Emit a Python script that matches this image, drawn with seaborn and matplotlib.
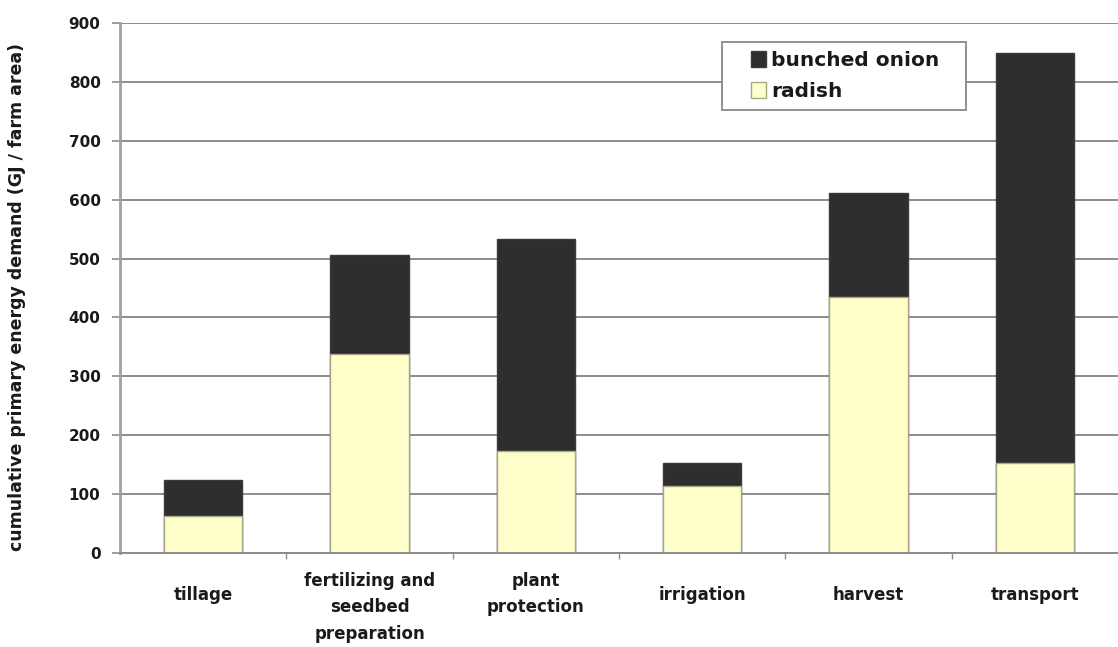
import matplotlib
matplotlib.use("Agg")
import matplotlib.pyplot as plt
import matplotlib.transforms as mtransforms
from matplotlib.patches import Patch, Rectangle
from matplotlib.legend_handler import HandlerPatch
import seaborn as sns
import pandas as pd

categories = ["tillage", "fertilizing and\nseedbed\npreparation", "plant\nprotection",
              "irrigation", "harvest", "transport"]
radish = [63, 338, 174, 114, 435, 152]
bunched_onion = [61, 168, 359, 38, 176, 697]
y_ticks = [0, 100, 200, 300, 400, 500, 600, 700, 800, 900]

sns.set_theme(style="white")
plt.rcParams["font.family"] = ["DejaVu Sans"]
plt.rcParams["font.weight"] = "bold"

RADISH_FILL = "#ffffcc"
RADISH_EDGE = "#a8a888"
ONION_FILL = "#2e2e2e"
ONION_EDGE = "#3a3a3a"
GRID = "#8c8c8c"
TEXT = "#1a1a1a"

df = pd.DataFrame({"stage": categories, "radish": radish, "onion": bunched_onion})
df["total"] = df["radish"] + df["onion"]

fig = plt.figure(figsize=(11.18, 6.47), dpi=100)
ax = fig.add_axes([120 / 1118, 94 / 647, 1.0 - 120 / 1118, 530 / 647])

# Stacked bars: the total is drawn first in the dark colour, the radish share on top of it
sns.barplot(data=df, x="stage", y="total", color=ONION_FILL, width=0.47,
            edgecolor=ONION_EDGE, linewidth=1.0, ax=ax, saturation=1)
sns.barplot(data=df, x="stage", y="radish", color=RADISH_FILL, width=0.47,
            edgecolor=RADISH_EDGE, linewidth=1.0, ax=ax, saturation=1)

ax.set_ylim(0, 900)
ax.set_xlim(-0.5, len(categories) - 0.5)
ax.set_yticks(y_ticks)
ax.set_yticklabels([str(v) for v in y_ticks], fontsize=11, fontweight="bold", color=TEXT)
ax.yaxis.grid(True, color=GRID, linewidth=1.4)
ax.xaxis.grid(False)
ax.set_axisbelow(True)

for side in ("top", "right"):
    ax.spines[side].set_visible(False)
ax.spines["left"].set_color("#a0a0a0")
ax.spines["left"].set_linewidth(2.0)
ax.spines["bottom"].set_color(GRID)
ax.spines["bottom"].set_linewidth(1.4)

ax.tick_params(axis="y", which="major", left=True, length=6, width=1.2, color=GRID, pad=8)

# Category ticks sit between the bars
ax.set_xticks([i + 0.5 for i in range(len(categories) - 1)])
ax.set_xticklabels([])
ax.tick_params(axis="x", which="major", bottom=True, length=4, width=1.0, color=GRID, direction="out")

ax.set_xlabel("")
ax.set_ylabel("cumulative primary energy demand (GJ / farm area)", fontsize=12.5,
              fontweight="bold", color=TEXT)
ax.yaxis.set_label_coords(-0.094, 0.483)

# Category labels, vertically centred below the axis, but never above the first text row
trans = mtransforms.blended_transform_factory(ax.transData, fig.transFigure)
center_px = 647 - 595
top_px = 647 - 573
line_px = 27
for i, lab in enumerate(categories):
    n = lab.count("\n") + 1
    half = (n - 1) * line_px / 2 + 9
    if center_px + half > top_px:
        ax.text(i, (top_px + 1) / 647, lab, transform=trans, ha="center", va="top",
                fontsize=12, fontweight="bold", color=TEXT, linespacing=1.6, clip_on=False)
    else:
        ax.text(i, center_px / 647, lab, transform=trans, ha="center", va="center",
                fontsize=12, fontweight="bold", color=TEXT, linespacing=1.6, clip_on=False)


def square_key(legend, orig_handle, xdescent, ydescent, width, height, fontsize):
    # small square key placed at the right end of the handle box
    s = 0.78 * fontsize
    return Rectangle((-xdescent + width - s, -ydescent + (height - s) / 2), s, s)


handles = [Patch(facecolor=ONION_FILL, edgecolor=ONION_EDGE, label="bunched onion"),
           Patch(facecolor=RADISH_FILL, edgecolor=RADISH_EDGE, label="radish")]
leg = ax.legend(handles=handles, loc="upper left", mode="expand",
                bbox_to_anchor=((722 - 120) / 998, (553 - 110) / 530, 244 / 998, 68 / 530),
                handler_map={Patch: HandlerPatch(patch_func=square_key)},
                frameon=True, fancybox=False, framealpha=1, edgecolor="#909090",
                prop={"size": 14.5, "weight": "bold"}, handlelength=1.75, handleheight=0.8,
                handletextpad=0.25, labelspacing=0.6, borderpad=0.45, borderaxespad=0)
leg.get_frame().set_linewidth(1.4)
for t in leg.get_texts():
    t.set_color(TEXT)

fig.savefig("out.png", dpi=100, facecolor="white")
